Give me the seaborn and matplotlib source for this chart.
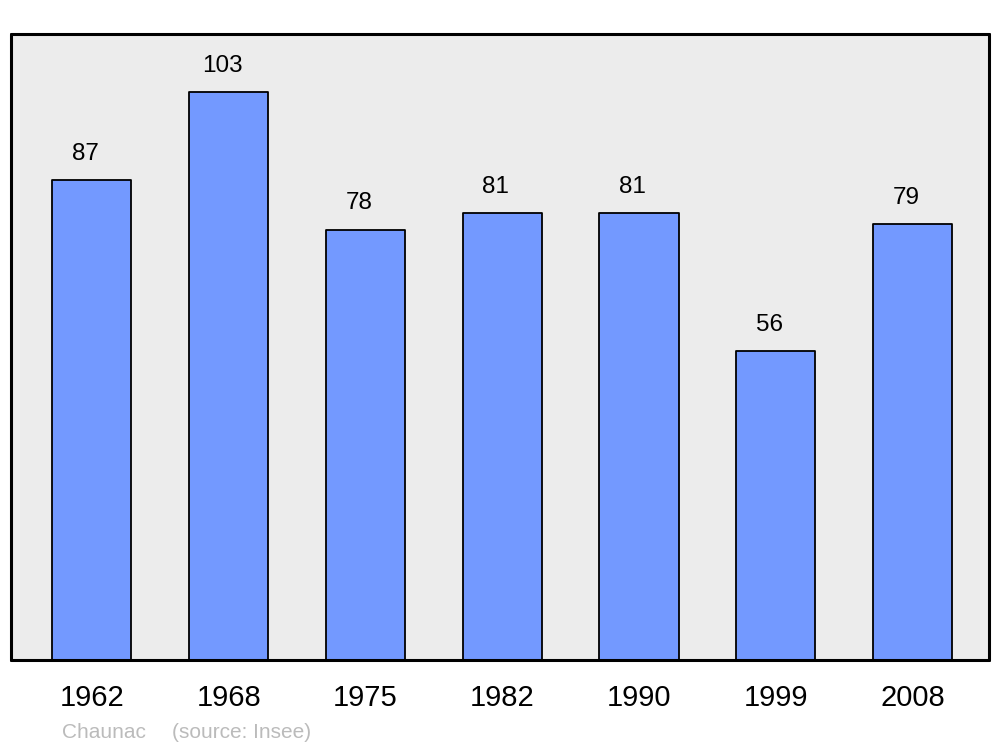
import matplotlib
matplotlib.use("Agg")
import matplotlib.pyplot as plt
import seaborn as sns
import pandas as pd

# population of Chaunac by census year
years = ["1962", "1968", "1975", "1982", "1990", "1999", "2008"]
population = [87, 103, 78, 81, 81, 56, 79]
commune = "Chaunac"
source = "(source: Insee)"

df = pd.DataFrame({"year": years, "population": population})

sns.set_theme(style="white")
plt.rcParams["font.family"] = ["Liberation Sans", "DejaVu Sans"]

fig = plt.figure(figsize=(10, 7.47), dpi=100)
ax = fig.add_axes([0.011, 1 - 660 / 747, 0.978, (660 - 34) / 747])
ax.set_facecolor("#ececec")

sns.barplot(data=df, x="year", y="population", color="#7399ff", saturation=1,
            width=0.578, edgecolor="black", linewidth=1.3, ax=ax)
for bar in ax.patches:
    bar.set_joinstyle("round")

for i, v in enumerate(population):
    ax.annotate(str(v), (i, v), xytext=(-4.7, 19), textcoords="offset points",
                ha="center", va="center", fontsize=17.5, color="black")

ax.set_xlim(-0.592, 6.559)
ax.set_ylim(0, 113.5)
ax.set_xlabel("")
ax.set_ylabel("")
ax.set_yticks([])
ax.tick_params(axis="x", length=0, pad=17, labelsize=21, colors="black")
for sp in ax.spines.values():
    sp.set_visible(True)
    sp.set_color("black")
    sp.set_linewidth(2.2)
    sp.set_capstyle("round")
    sp.set_joinstyle("round")

fig.text(0.062, 0.0125, commune, fontsize=15, color="#bbbbbb", ha="left", va="baseline")
fig.text(0.172, 0.0125, source, fontsize=15, color="#bbbbbb", ha="left", va="baseline")

fig.savefig("out.png", dpi=100)
